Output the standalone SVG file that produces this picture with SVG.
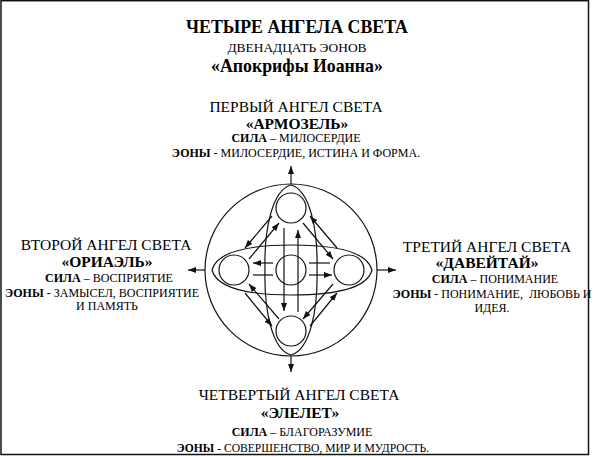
<svg xmlns="http://www.w3.org/2000/svg" width="600" height="457" viewBox="0 0 600 457">
<style>
text{font-family:"Liberation Serif","Times New Roman",serif;fill:#000;text-anchor:middle}
.t{font-weight:bold;font-size:17.8px}
.s{font-size:13.4px}
.h{font-size:15.5px}
.n{font-weight:bold;font-size:15.5px}
.d{font-size:12px}
.e{font-size:11.6px}
.b{font-weight:bold}
.ln{fill:none;stroke:#111;stroke-width:1.2}
.c{fill:#fff;stroke:#111;stroke-width:1.2}
</style>
<defs>
<marker id="ar" markerUnits="userSpaceOnUse" markerWidth="8" markerHeight="6" refX="8" refY="3" orient="auto">
<path d="M0,0 L8,3 L0,6 Z" fill="#111"/>
</marker>
</defs>
<rect x="1" y="0.7" width="587.5" height="453.8" fill="#fff" stroke="#111" stroke-width="1.5"/>

<g id="title">
<text class="t" x="297" y="33">ЧЕТЫРЕ АНГЕЛА СВЕТА</text>
<text class="s" x="297" y="52">ДВЕНАДЦАТЬ ЭОНОВ</text>
<text class="t" x="297" y="72">«Апокрифы Иоанна»</text>
</g>

<g id="angel1">
<text class="h" x="296" y="112">ПЕРВЫЙ АНГЕЛ СВЕТА</text>
<text class="n" x="297" y="129">«АРМОЗЕЛЬ»</text>
<text class="d" x="296" y="142"><tspan class="b">СИЛА</tspan> – МИЛОСЕРДИЕ</text>
<text class="d" x="296" y="157"><tspan class="b">ЭОНЫ</tspan> - МИЛОСЕРДИЕ, ИСТИНА И ФОРМА.</text>
</g>

<g id="angel2">
<text class="h" x="106" y="250">ВТОРОЙ АНГЕЛ СВЕТА</text>
<text class="n" x="107" y="267">«ОРИАЭЛЬ»</text>
<text class="d" x="109" y="282"><tspan class="b">СИЛА</tspan> – ВОСПРИЯТИЕ</text>
<text class="d" x="102" y="297"><tspan class="b">ЭОНЫ</tspan> - ЗАМЫСЕЛ, ВОСПРИЯТИЕ</text>
<text class="d" x="107" y="310">И ПАМЯТЬ</text>
</g>

<g id="angel3">
<text class="h" x="487" y="252">ТРЕТИЙ АНГЕЛ СВЕТА</text>
<text class="n" x="487" y="268">«ДАВЕЙТАЙ»</text>
<text class="d" x="495" y="283"><tspan class="b">СИЛА</tspan> – ПОНИМАНИЕ</text>
<text class="d" x="492" y="298"><tspan class="b">ЭОНЫ</tspan> - ПОНИМАНИЕ,&#160; ЛЮБОВЬ И</text>
<text class="d" x="492" y="312">ИДЕЯ.</text>
</g>

<g id="angel4">
<text class="h" x="299" y="400">ЧЕТВЕРТЫЙ АНГЕЛ СВЕТА</text>
<text class="n" x="300" y="418">«ЭЛЕЛЕТ»</text>
<text class="d" x="302" y="436"><tspan class="b">СИЛА</tspan> – БЛАГОРАЗУМИЕ</text>
<text class="e" x="303" y="452"><tspan class="b">ЭОНЫ</tspan> - СОВЕРШЕНСТВО, МИР И МУДРОСТЬ.</text>
</g>

<g id="outer-circle">
<circle class="ln" cx="291" cy="270" r="86"/>
</g>

<g id="lenses">
<path class="ln" d="M291,185 C310,190 318,230 317,270 C318,310 310,350 291,355 C272,350 264,310 265,270 C264,230 272,190 291,185 Z"/>
<path class="ln" d="M212,270 C217,251 250,245 292,245 C334,245 367,251 372,270 C367,289 334,295 292,295 C250,295 217,289 212,270 Z"/>
</g>

<g id="connectors" class="ln" marker-end="url(#ar)">
<line x1="291" y1="184" x2="291" y2="166"/>
<line x1="377" y1="270" x2="396" y2="270"/>
<line x1="205" y1="270" x2="188" y2="270"/>
<line x1="291" y1="356" x2="291" y2="372"/>
<line x1="272" y1="216" x2="245" y2="248"/>
<line x1="249" y1="259" x2="279" y2="223"/>
<line x1="337" y1="248" x2="310" y2="216"/>
<line x1="303" y1="223" x2="333" y2="259"/>
<line x1="245" y1="293" x2="272" y2="326"/>
<line x1="279" y1="319" x2="249" y2="284"/>
<line x1="310" y1="326" x2="337" y2="293"/>
<line x1="333" y1="284" x2="303" y2="319"/>
<line x1="273" y1="263" x2="253" y2="263"/>
<line x1="309" y1="275" x2="332" y2="275"/>
<line x1="253" y1="275" x2="273" y2="275" marker-end="none"/>
<line x1="309" y1="263" x2="330" y2="263" marker-end="none"/>
</g>

<g id="circle-center"><circle class="c" cx="291" cy="270" r="15"/></g>
<g id="vertical-arrows" class="ln" marker-end="url(#ar)">
<line x1="284" y1="228" x2="284" y2="311"/>
<line x1="298" y1="312" x2="298" y2="230"/>
</g>
<g id="circle-top"><circle class="c" cx="291" cy="208" r="15"/></g>
<g id="circle-bottom"><circle class="c" cx="291" cy="331" r="15"/></g>
<g id="circle-left"><circle class="c" cx="234" cy="270" r="15"/></g>
<g id="circle-right"><circle class="c" cx="349" cy="270" r="15"/></g>
</svg>
